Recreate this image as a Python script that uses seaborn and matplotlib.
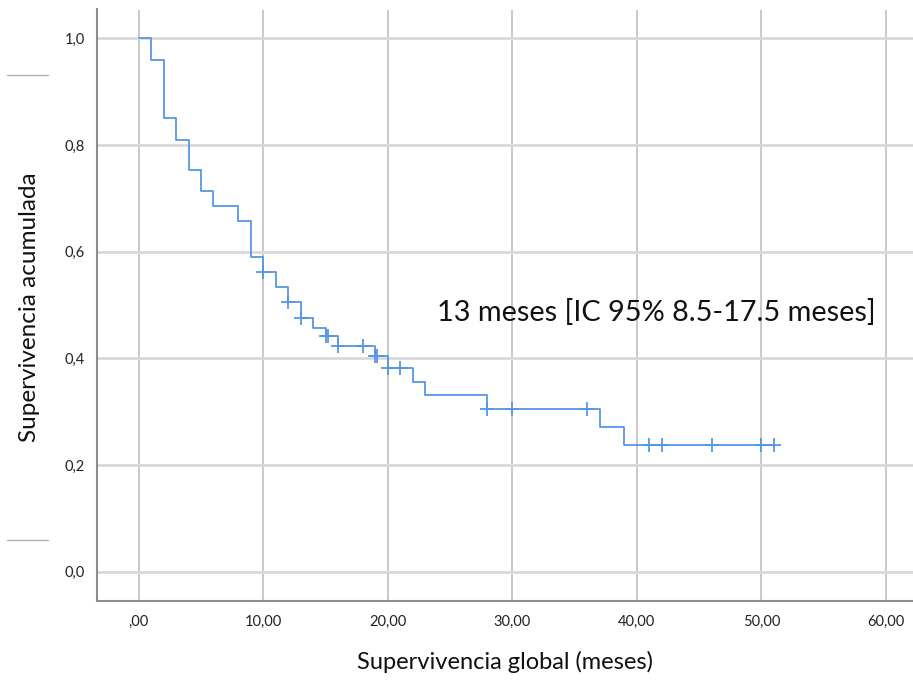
import matplotlib
matplotlib.use("Agg")
import matplotlib.pyplot as plt
import seaborn as sns
import pandas as pd
from matplotlib.lines import Line2D

# ---- data ----
event_times = [0, 1, 2, 3, 4, 5, 6, 8, 9, 10, 11, 12, 13, 14, 15, 16, 19, 20, 22, 23, 28, 37, 39, 51]
event_surv = [1.0, 0.959, 0.850, 0.809, 0.754, 0.713, 0.685, 0.658, 0.590, 0.562, 0.534, 0.506,
              0.475, 0.457, 0.442, 0.423, 0.404, 0.381, 0.355, 0.331, 0.305, 0.272, 0.238, 0.238]
censor_times = [10, 12, 13, 15, 15.2, 16, 18, 19, 19.15, 20, 21, 28, 30, 36, 41, 42, 46, 50, 51]
censor_surv = [0.562, 0.506, 0.475, 0.442, 0.442, 0.423, 0.423, 0.404, 0.404, 0.381, 0.381,
               0.305, 0.305, 0.305, 0.238, 0.238, 0.238, 0.238, 0.238]
x_ticks = [0, 10, 20, 30, 40, 50, 60]
x_ticklabels = [",00", "10,00", "20,00", "30,00", "40,00", "50,00", "60,00"]
y_ticks = [0.0, 0.2, 0.4, 0.6, 0.8, 1.0]
y_ticklabels = ["0,0", "0,2", "0,4", "0,6", "0,8", "1,0"]
annotation = "13 meses [IC 95% 8.5-17.5 meses]"
xlabel = "Supervivencia global (meses)"
ylabel = "Supervivencia acumulada"

curve = pd.DataFrame({"t": event_times, "s": event_surv})
cens = pd.DataFrame({"t": censor_times, "s": censor_surv})

sns.set_theme(style="white")
plt.rcParams["font.family"] = ["Lato", "DejaVu Sans"]

W, H = 913, 680
fig = plt.figure(figsize=(W / 100, H / 100), dpi=100)
ax = fig.add_axes([97 / W, (H - 601) / H, (W - 97) / W, (601 - 9.5) / H])

line_col = "#5596e6"
sns.lineplot(data=curve, x="t", y="s", ax=ax, drawstyle="steps-post", color=line_col,
             linewidth=1.3, estimator=None, sort=False, zorder=3)
sns.scatterplot(data=cens, x="t", y="s", ax=ax, marker="+", s=90, color=line_col,
                linewidth=1.3, zorder=4)

ax.set_xlim(-3.35, 62.17)
ax.set_ylim(-0.055, 1.054)
ax.set_xticks(x_ticks)
ax.set_xticklabels(x_ticklabels)
ax.set_yticks(y_ticks)
ax.set_yticklabels(y_ticklabels)
ax.tick_params(axis="both", length=0, labelsize=10.5, labelcolor="#222222")
ax.tick_params(axis="x", pad=10)
ax.tick_params(axis="y", pad=9)

ax.grid(False)
for v in x_ticks:
    ax.axvline(v, color="#c8c8c8", linewidth=1.4, zorder=1)
for v in y_ticks:
    ax.axhline(v, color="#d9d9d9", linewidth=2.0, zorder=1)

for side in ["top", "right"]:
    ax.spines[side].set_visible(False)
for side in ["left", "bottom"]:
    ax.spines[side].set_color("#8c8c8c")
    ax.spines[side].set_linewidth(1.5)

ax.set_xlabel(xlabel, fontsize=17, color="#111111")
ax.set_ylabel(ylabel, fontsize=17.5, color="#111111")
ax.xaxis.set_label_coords((505 - 97) / (W - 97), (601 - 662) / (601 - 9.5))
ax.yaxis.set_label_coords((30 - 97) / (W - 97), (601 - 307) / (601 - 9.5))
ax.xaxis.label.set_va("center")
ax.yaxis.label.set_va("center")

ax.text(23.95, 0.486, annotation, fontsize=20.8, color="#111111", ha="left", va="center", zorder=5)

# small decorative marks at the left margin
for yp in [75, 540]:
    fig.add_artist(Line2D([7 / W, 48 / W], [(H - yp) / H, (H - yp) / H], color="#b0b0b0",
                          linewidth=1.0, transform=fig.transFigure))

fig.savefig("out.png", dpi=100)
